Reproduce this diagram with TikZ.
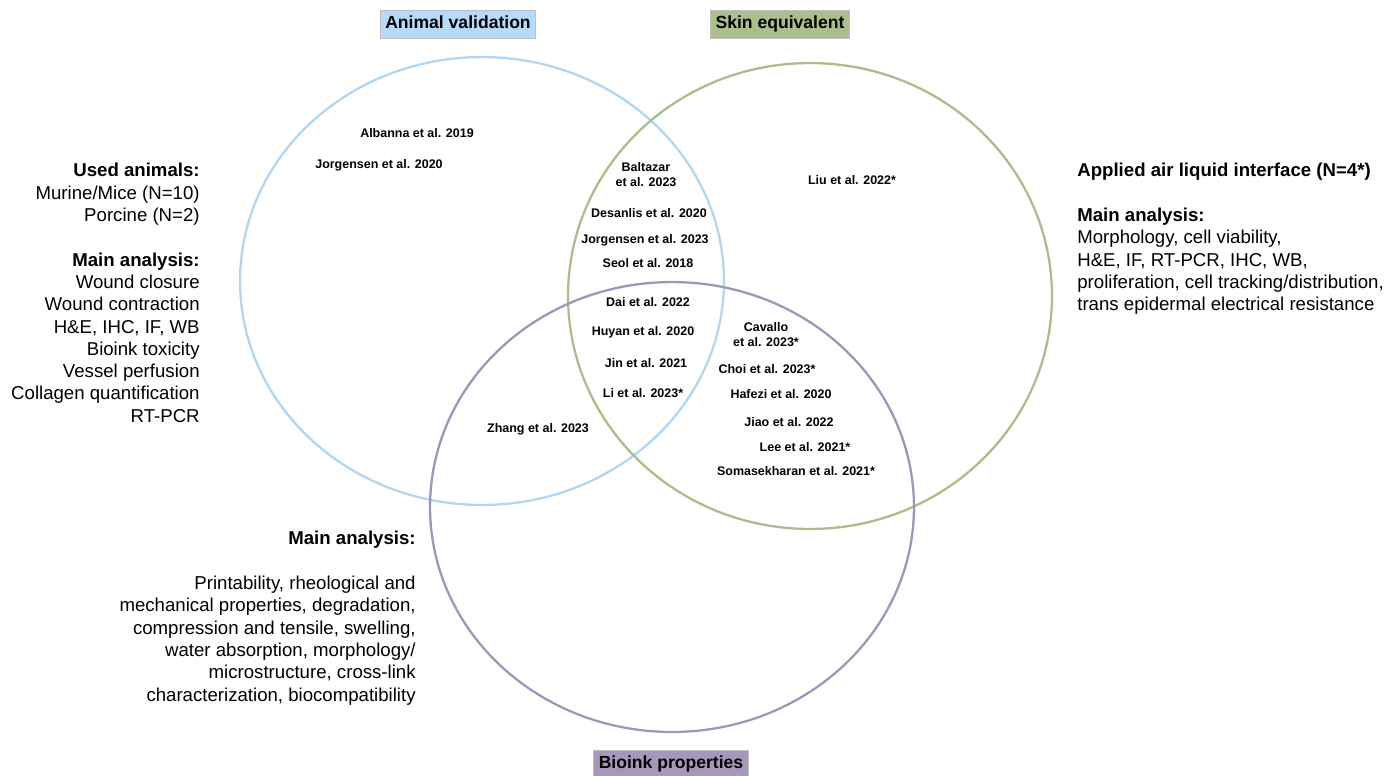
\documentclass[tikz,border=0pt]{standalone}
\usepackage{fontspec}
\setmainfont{Liberation Sans}
\usetikzlibrary{shapes.geometric,positioning}

\definecolor{animalline}{HTML}{B0D6F5}
\definecolor{animalfill}{HTML}{B5DAFB}
\definecolor{skinline}{HTML}{A9BE88}
\definecolor{skinfill}{HTML}{ABBE8B}
\definecolor{bioline}{HTML}{A194B8}
\definecolor{biofill}{HTML}{A797B9}

\tikzset{
  venn/.style={ellipse, draw, line width=1.3pt, minimum width=9.68cm, inner sep=0pt},
  settitle/.style={draw=black!25, line width=0.4pt, inner xsep=0.1cm, inner ysep=0pt,
    text height=7.6pt, text depth=2.2pt, minimum height=0.56cm,
    font=\fontsize{10}{12}\selectfont\bfseries},
  study/.style={align=center, inner sep=1pt, font=\fontsize{7.1}{8.5}\selectfont\bfseries},
  notes/.style={inner sep=0pt, font=\fontsize{10.6}{12.7}\selectfont}
}

\begin{document}
\begin{tikzpicture}[x=0.02cm,y=-0.02cm]
  \useasboundingbox (0,0) rectangle (1386,775);

  % Sets
  \node[venn, draw=animalline, minimum height=8.96cm] (animal) at (482,281) {} ;
  \node[venn, draw=skinline,   minimum height=9.32cm] (skin)   at (810,296) {} ;
  \node[venn, draw=bioline,    minimum height=9.0cm]  (bioink) at (672,507) {} ;

  % Set titles
  \node[settitle, fill=animalfill] (animal-t) at (458,24)  {Animal validation} ;
  \node[settitle, fill=skinfill]   (skin-t)   at (780,24)  {Skin equivalent} ;
  \node[settitle, fill=biofill]    (bioink-t) at (671,764) {Bioink properties} ;

  % Animal only
  \node[study] (albanna)  at (417,133) {Albanna et al. 2019} ;
  \node[study] (jorg20)   at (379,165) {Jorgensen et al. 2020} ;

  % Animal and skin
  \node[study] (baltazar) at (646,175) {Baltazar\\et al. 2023} ;
  \node[study] (desanlis) at (649,213) {Desanlis et al. 2020} ;
  \node[study] (jorg23)   at (645,240) {Jorgensen et al. 2023} ;
  \node[study] (seol)     at (648,263) {Seol et al. 2018} ;

  % All three
  \node[study] (dai)      at (648,302) {Dai et al. 2022} ;
  \node[study] (huyan)    at (643,332) {Huyan et al. 2020} ;
  \node[study] (jin)      at (646,363) {Jin et al. 2021} ;
  \node[study] (li)       at (643,393) {Li et al. 2023*} ;

  % Skin only
  \node[study] (liu)      at (852,180) {Liu et al. 2022*} ;

  % Skin and bioink
  \node[study] (cavallo)  at (766,335) {Cavallo\\et al. 2023*} ;
  \node[study] (choi)     at (767,369) {Choi et al. 2023*} ;
  \node[study] (hafezi)   at (781,394) {Hafezi et al. 2020} ;
  \node[study] (jiao)     at (789,422) {Jiao et al. 2022} ;
  \node[study] (lee)      at (805,447) {Lee et al. 2021*} ;
  \node[study] (somasek)  at (796,471) {Somasekharan et al. 2021*} ;

  % Animal and bioink
  \node[study] (zhang)    at (538,429) {Zhang et al. 2023} ;

  % Notes
  \node[notes, align=right, anchor=north east] (animal-n) at (200,163)
    {\textbf{Used animals:}\\Murine/Mice (N=10)\\Porcine (N=2)\\[12.7pt]
     \textbf{Main analysis:}\\Wound closure\\Wound contraction\\H\&E, IHC, IF, WB\\
     Bioink toxicity\\Vessel perfusion\\Collagen quantification\\RT-PCR} ;
  \node[notes, align=left, anchor=north west] (skin-n) at (1077,163)
    {\textbf{Applied air liquid interface (N=4*)}\\[12.7pt]
     \textbf{Main analysis:}\\Morphology, cell viability,\\H\&E, IF, RT-PCR, IHC, WB,\\
     proliferation, cell tracking/distribution,\\trans epidermal electrical resistance} ;
  \node[notes, align=right, anchor=north east] (bioink-n) at (416,531)
    {\textbf{Main analysis:}\\[12.7pt]
     Printability, rheological and\\mechanical properties, degradation,\\
     compression and tensile, swelling,\\water absorption, morphology/\\
     microstructure, cross-link\\characterization, biocompatibility} ;
\end{tikzpicture}
\end{document}
